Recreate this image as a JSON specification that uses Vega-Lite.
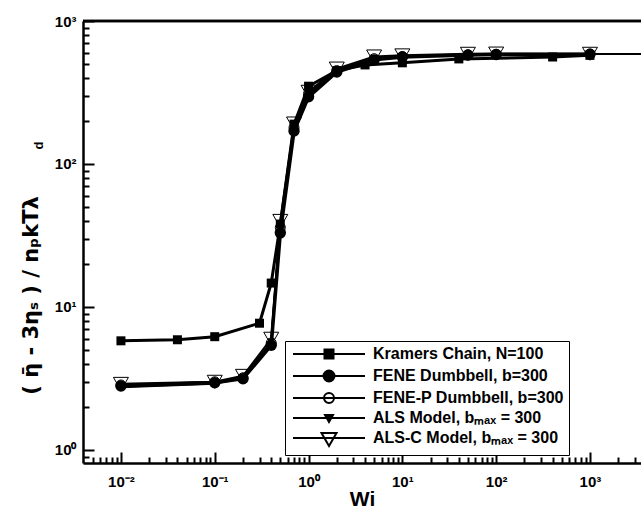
{
  "$schema": "https://vega.github.io/schema/vega-lite/v6.json",
  "width": 558,
  "height": 442,
  "autosize": {"type": "none"},
  "padding": {"left": 83, "top": 21, "right": 0, "bottom": 45},
  "background": "white",
  "config": {
    "view": {"stroke": null},
    "font": "Liberation Sans",
    "axis": {"domainColor": "black", "tickColor": "black", "labelColor": "black", "titleColor": "black", "grid": false}
  },
  "datasets": {
    "curves": [
      {"model": "Kramers Chain, N=100", "wi": 0.01, "eta": 5.8},
      {"model": "Kramers Chain, N=100", "wi": 0.04, "eta": 5.9},
      {"model": "Kramers Chain, N=100", "wi": 0.1, "eta": 6.2},
      {"model": "Kramers Chain, N=100", "wi": 0.3, "eta": 7.7},
      {"model": "Kramers Chain, N=100", "wi": 0.4, "eta": 14.7},
      {"model": "Kramers Chain, N=100", "wi": 0.5, "eta": 38},
      {"model": "Kramers Chain, N=100", "wi": 0.7, "eta": 190},
      {"model": "Kramers Chain, N=100", "wi": 1, "eta": 350},
      {"model": "Kramers Chain, N=100", "wi": 2, "eta": 450},
      {"model": "Kramers Chain, N=100", "wi": 4, "eta": 493},
      {"model": "Kramers Chain, N=100", "wi": 10, "eta": 510},
      {"model": "Kramers Chain, N=100", "wi": 40, "eta": 543},
      {"model": "Kramers Chain, N=100", "wi": 400, "eta": 560},
      {"model": "Kramers Chain, N=100", "wi": 1000, "eta": 575},

      {"model": "FENE Dumbbell, b=300", "wi": 0.01, "eta": 2.8},
      {"model": "FENE Dumbbell, b=300", "wi": 0.1, "eta": 2.95},
      {"model": "FENE Dumbbell, b=300", "wi": 0.2, "eta": 3.15},
      {"model": "FENE Dumbbell, b=300", "wi": 0.4, "eta": 5.4},
      {"model": "FENE Dumbbell, b=300", "wi": 0.5, "eta": 33},
      {"model": "FENE Dumbbell, b=300", "wi": 0.7, "eta": 170},
      {"model": "FENE Dumbbell, b=300", "wi": 1, "eta": 295},
      {"model": "FENE Dumbbell, b=300", "wi": 2, "eta": 440},
      {"model": "FENE Dumbbell, b=300", "wi": 5, "eta": 535},
      {"model": "FENE Dumbbell, b=300", "wi": 10, "eta": 560},
      {"model": "FENE Dumbbell, b=300", "wi": 50, "eta": 578},
      {"model": "FENE Dumbbell, b=300", "wi": 100, "eta": 583},
      {"model": "FENE Dumbbell, b=300", "wi": 1000, "eta": 585},

      {"model": "FENE-P Dumbbell, b=300", "wi": 0.01, "eta": 2.85},
      {"model": "FENE-P Dumbbell, b=300", "wi": 0.1, "eta": 3.0},
      {"model": "FENE-P Dumbbell, b=300", "wi": 0.2, "eta": 3.2},
      {"model": "FENE-P Dumbbell, b=300", "wi": 0.4, "eta": 5.6},
      {"model": "FENE-P Dumbbell, b=300", "wi": 0.5, "eta": 36},
      {"model": "FENE-P Dumbbell, b=300", "wi": 0.7, "eta": 180},
      {"model": "FENE-P Dumbbell, b=300", "wi": 1, "eta": 310},
      {"model": "FENE-P Dumbbell, b=300", "wi": 2, "eta": 450},
      {"model": "FENE-P Dumbbell, b=300", "wi": 5, "eta": 545},
      {"model": "FENE-P Dumbbell, b=300", "wi": 10, "eta": 565},
      {"model": "FENE-P Dumbbell, b=300", "wi": 50, "eta": 580},
      {"model": "FENE-P Dumbbell, b=300", "wi": 100, "eta": 585},
      {"model": "FENE-P Dumbbell, b=300", "wi": 1000, "eta": 588},
      {"model": "FENE-P Dumbbell, b=300", "wi": 10000, "eta": 588},

      {"model": "ALS Model, bₘₐₓ = 300", "wi": 0.01, "eta": 2.75},
      {"model": "ALS Model, bₘₐₓ = 300", "wi": 0.1, "eta": 2.9},
      {"model": "ALS Model, bₘₐₓ = 300", "wi": 0.2, "eta": 3.2},
      {"model": "ALS Model, bₘₐₓ = 300", "wi": 0.4, "eta": 5.7},
      {"model": "ALS Model, bₘₐₓ = 300", "wi": 0.5, "eta": 38},
      {"model": "ALS Model, bₘₐₓ = 300", "wi": 0.7, "eta": 185},
      {"model": "ALS Model, bₘₐₓ = 300", "wi": 1, "eta": 315},
      {"model": "ALS Model, bₘₐₓ = 300", "wi": 2, "eta": 455},
      {"model": "ALS Model, bₘₐₓ = 300", "wi": 5, "eta": 550},
      {"model": "ALS Model, bₘₐₓ = 300", "wi": 10, "eta": 565},
      {"model": "ALS Model, bₘₐₓ = 300", "wi": 50, "eta": 580},
      {"model": "ALS Model, bₘₐₓ = 300", "wi": 100, "eta": 585},
      {"model": "ALS Model, bₘₐₓ = 300", "wi": 1000, "eta": 585},

      {"model": "ALS-C Model, bₘₐₓ = 300", "wi": 0.01, "eta": 2.9},
      {"model": "ALS-C Model, bₘₐₓ = 300", "wi": 0.1, "eta": 3.0},
      {"model": "ALS-C Model, bₘₐₓ = 300", "wi": 0.2, "eta": 3.3},
      {"model": "ALS-C Model, bₘₐₓ = 300", "wi": 0.4, "eta": 6.0},
      {"model": "ALS-C Model, bₘₐₓ = 300", "wi": 0.5, "eta": 40},
      {"model": "ALS-C Model, bₘₐₓ = 300", "wi": 0.7, "eta": 192},
      {"model": "ALS-C Model, bₘₐₓ = 300", "wi": 1, "eta": 320},
      {"model": "ALS-C Model, bₘₐₓ = 300", "wi": 2, "eta": 465},
      {"model": "ALS-C Model, bₘₐₓ = 300", "wi": 5, "eta": 565},
      {"model": "ALS-C Model, bₘₐₓ = 300", "wi": 10, "eta": 575},
      {"model": "ALS-C Model, bₘₐₓ = 300", "wi": 50, "eta": 590},
      {"model": "ALS-C Model, bₘₐₓ = 300", "wi": 100, "eta": 592},
      {"model": "ALS-C Model, bₘₐₓ = 300", "wi": 1000, "eta": 590}
    ]
  },
  "resolve": {"axis": {"y": "independent"}},
  "layer": [
    {
      "data": {"name": "curves"},
      "layer": [
        {
          "transform": [{"filter": "datum.model === 'Kramers Chain, N=100'"}],
          "mark": {"type": "line", "color": "black", "strokeWidth": 3, "clip": true},
          "encoding": {
            "x": {
              "field": "wi", "type": "quantitative",
              "scale": {"type": "log", "domain": [0.00394, 3500], "nice": false, "zero": false},
              "axis": {
                "title": "Wi", "titleFontSize": 21, "titleFontWeight": "bold", "titlePadding": -6,
                "values": [0.005, 0.006, 0.007, 0.008, 0.009, 0.01, 0.02, 0.03, 0.04, 0.05, 0.06, 0.07, 0.08, 0.09, 0.1, 0.2, 0.3, 0.4, 0.5, 0.6, 0.7, 0.8, 0.9, 1, 2, 3, 4, 5, 6, 7, 8, 9, 10, 20, 30, 40, 50, 60, 70, 80, 90, 100, 200, 300, 400, 500, 600, 700, 800, 900, 1000, 2000, 3000],
                "labelExpr": "abs(log(datum.value)/LN10 - round(log(datum.value)/LN10)) < 0.001 ? ['10⁻²','10⁻¹','10⁰','10¹','10²','10³'][round(log(datum.value)/LN10) + 2] : ''",
                "labelFontSize": 15, "labelFontWeight": "bold", "labelPadding": 22, "labelFlush": false, "labelOverlap": false,
                "tickSize": {"condition": {"test": "abs(log(datum.value)/LN10 - round(log(datum.value)/LN10)) < 0.001", "value": -11}, "value": -6},
                "tickWidth": 2, "domainWidth": 2.5
              }
            },
            "y": {
              "field": "eta", "type": "quantitative",
              "scale": {"type": "log", "domain": [0.811, 1000], "nice": false, "zero": false},
              "axis": {
                "title": null,
                "values": [0.9, 1, 2, 3, 4, 5, 6, 7, 8, 9, 10, 20, 30, 40, 50, 60, 70, 80, 90, 100, 200, 300, 400, 500, 600, 700, 800, 900, 1000],
                "labelExpr": "abs(log(datum.value)/LN10 - round(log(datum.value)/LN10)) < 0.001 ? ['10⁰','10¹','10²','10³'][round(log(datum.value)/LN10)] : ''",
                "labelFontSize": 15, "labelFontWeight": "bold", "labelPadding": 18, "labelFlush": false, "labelOverlap": false,
                "tickSize": {"condition": {"test": "abs(log(datum.value)/LN10 - round(log(datum.value)/LN10)) < 0.001", "value": -11}, "value": -6},
                "tickWidth": 2, "domainWidth": 2.5
              }
            }
          }
        },
        {
          "transform": [{"filter": "datum.model === 'FENE Dumbbell, b=300'"}],
          "mark": {"type": "line", "color": "black", "strokeWidth": 3.5, "clip": true},
          "encoding": {"x": {"field": "wi", "type": "quantitative"}, "y": {"field": "eta", "type": "quantitative"}}
        },
        {
          "transform": [{"filter": "datum.model === 'FENE-P Dumbbell, b=300'"}],
          "mark": {"type": "line", "color": "black", "strokeWidth": 2, "clip": true},
          "encoding": {"x": {"field": "wi", "type": "quantitative"}, "y": {"field": "eta", "type": "quantitative"}}
        },
        {
          "transform": [{"filter": "datum.model === 'ALS Model, bₘₐₓ = 300'"}],
          "mark": {"type": "line", "color": "black", "strokeWidth": 2, "clip": true},
          "encoding": {"x": {"field": "wi", "type": "quantitative"}, "y": {"field": "eta", "type": "quantitative"}}
        },
        {
          "transform": [{"filter": "datum.model === 'ALS-C Model, bₘₐₓ = 300'"}],
          "mark": {"type": "line", "color": "black", "strokeWidth": 2, "clip": true},
          "encoding": {"x": {"field": "wi", "type": "quantitative"}, "y": {"field": "eta", "type": "quantitative"}}
        },
        {
          "transform": [{"filter": "datum.model === 'Kramers Chain, N=100'"}],
          "mark": {"type": "point", "shape": "square", "size": 81, "filled": true, "color": "black", "opacity": 1, "clip": true},
          "encoding": {"x": {"field": "wi", "type": "quantitative"}, "y": {"field": "eta", "type": "quantitative"}}
        },
        {
          "transform": [{"filter": "datum.model === 'FENE Dumbbell, b=300'"}],
          "mark": {"type": "point", "shape": "circle", "size": 130, "filled": true, "color": "black", "opacity": 1, "clip": true},
          "encoding": {"x": {"field": "wi", "type": "quantitative"}, "y": {"field": "eta", "type": "quantitative"}}
        },
        {
          "transform": [{"filter": "datum.model === 'FENE-P Dumbbell, b=300' && datum.wi <= 1000"}],
          "mark": {"type": "point", "shape": "circle", "size": 100, "filled": false, "stroke": "black", "strokeWidth": 1, "fill": null, "opacity": 1, "clip": true},
          "encoding": {"x": {"field": "wi", "type": "quantitative"}, "y": {"field": "eta", "type": "quantitative"}}
        },
        {
          "transform": [{"filter": "datum.model === 'ALS Model, bₘₐₓ = 300'"}],
          "mark": {"type": "point", "shape": "triangle-down", "size": 64, "filled": true, "color": "black", "opacity": 1, "clip": true},
          "encoding": {"x": {"field": "wi", "type": "quantitative"}, "y": {"field": "eta", "type": "quantitative"}}
        },
        {
          "transform": [{"filter": "datum.model === 'ALS-C Model, bₘₐₓ = 300'"}],
          "mark": {"type": "point", "shape": "triangle-down", "size": 225, "filled": false, "stroke": "black", "strokeWidth": 1, "fill": null, "opacity": 1, "clip": true},
          "encoding": {"x": {"field": "wi", "type": "quantitative"}, "y": {"field": "eta", "type": "quantitative"}}
        },
        {
          "mark": {"type": "point", "filled": true, "strokeWidth": 2, "opacity": 0, "clip": true},
          "encoding": {
            "x": {"field": "wi", "type": "quantitative"},
            "y": {"field": "eta", "type": "quantitative"},
            "shape": {
              "field": "model", "type": "nominal",
              "scale": {
                "domain": ["Kramers Chain, N=100", "FENE Dumbbell, b=300", "FENE-P Dumbbell, b=300", "ALS Model, bₘₐₓ = 300", "ALS-C Model, bₘₐₓ = 300"],
                "range": [
                  "M-1,0H13.4M5.3,-0.9H7.1V0.9H5.3Z",
                  "M-1,0H13.4M7.3,0A1.1,1.1 0 1,1 5.1,0A1.1,1.1 0 1,1 7.3,0Z",
                  "M-1,0H13.4M7.2,0A1,1 0 1,1 5.2,0A1,1 0 1,1 7.2,0Z",
                  "M-1,0H13.4M5.4,-0.6H7.0L6.2,0.8Z",
                  "M-1,0H13.4M4.7,-1.0H7.7L6.2,1.6Z"
                ]
              },
              "legend": {
                "title": null, "orient": "none", "legendX": 202, "legendY": 320,
                "padding": 5, "strokeColor": "black", "fillColor": "white",
                "symbolSize": 100, "symbolStrokeColor": "black", "symbolStrokeWidth": 2, "symbolOpacity": 1,
                "labelOffset": 67, "labelFontSize": 16, "labelFontWeight": "bold", "labelFont": "Liberation Sans",
                "labelColor": "black", "labelLimit": 400, "rowPadding": 3,
                "encode": {
                  "symbols": {"enter": {"stroke": {"value": "black"}, "strokeWidth": {"value": 2}}},
                  "legend": {"enter": {"strokeWidth": {"value": 1.5}}}
                }
              }
            },
            "fill": {
              "field": "model", "type": "nominal",
              "scale": {
                "domain": ["Kramers Chain, N=100", "FENE Dumbbell, b=300", "FENE-P Dumbbell, b=300", "ALS Model, bₘₐₓ = 300", "ALS-C Model, bₘₐₓ = 300"],
                "range": ["black", "black", "transparent", "black", "transparent"]
              }
            },
            "stroke": {
              "field": "model", "type": "nominal",
              "scale": {
                "domain": ["Kramers Chain, N=100", "FENE Dumbbell, b=300", "FENE-P Dumbbell, b=300", "ALS Model, bₘₐₓ = 300", "ALS-C Model, bₘₐₓ = 300"],
                "range": ["black", "black", "black", "black", "black"]
              }
            }
          }
        }
      ]
    },
    {
      "data": {"values": [{}]},
      "mark": {"type": "rule", "color": "black", "strokeWidth": 2.5},
      "encoding": {
        "y": {
          "datum": 1000, "type": "quantitative",
          "scale": {"type": "log", "domain": [0.811, 1000], "nice": false, "zero": false},
          "axis": {
            "orient": "left", "title": "( η̄ - 3ηₛ ) / nₚkTλ", "labels": false, "ticks": false, "domain": false, "grid": false,
            "titleFont": "DejaVu Sans", "titleFontSize": 21, "titleFontWeight": "bold", "titleAngle": -90,
            "titleX": -52, "titleY": 274, "titleAlign": "center", "titleBaseline": "middle"
          }
        }
      }
    },
    {
      "data": {"values": [{}]},
      "mark": {"type": "rule", "color": "black", "strokeWidth": 2.5},
      "encoding": {
        "y": {
          "datum": 1000, "type": "quantitative",
          "scale": {"type": "log", "domain": [0.811, 1000], "nice": false, "zero": false},
          "axis": {
            "orient": "left", "title": "d", "labels": false, "ticks": false, "domain": false, "grid": false,
            "titleFontSize": 13, "titleFontWeight": "bold", "titleAngle": -90,
            "titleX": -45, "titleY": 124, "titleAlign": "center", "titleBaseline": "middle"
          }
        }
      }
    }
  ]
}
